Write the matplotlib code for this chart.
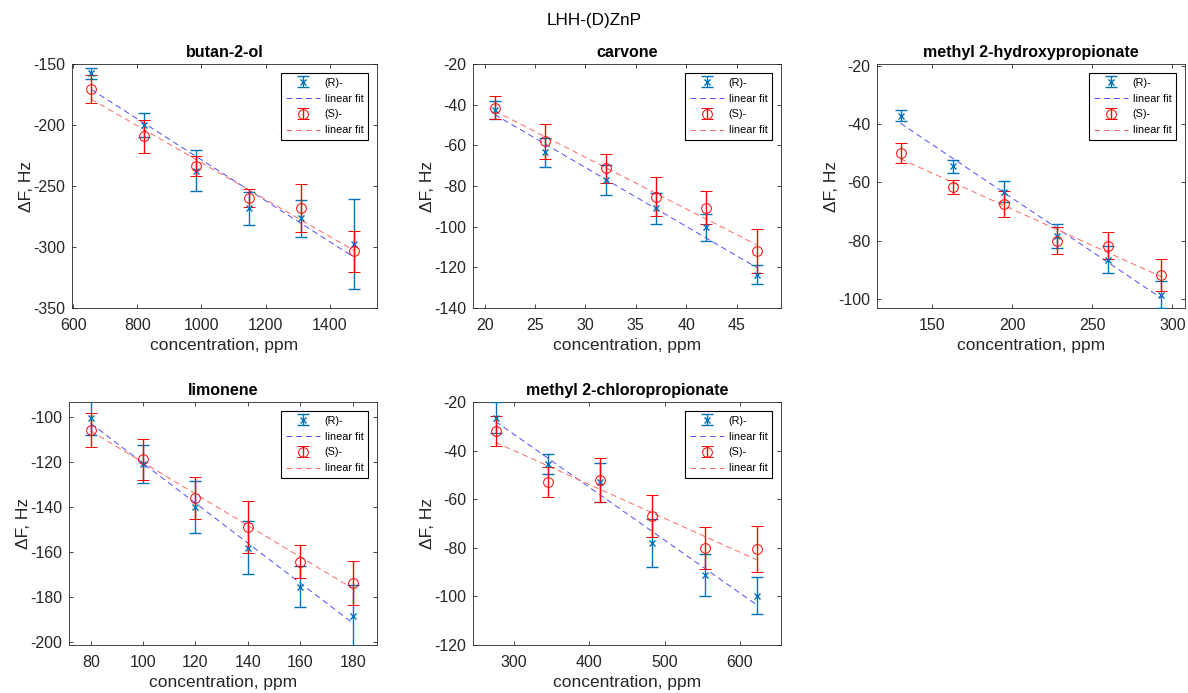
import numpy as np
import matplotlib
matplotlib.use("Agg")
import matplotlib.pyplot as plt

plt.rcParams['font.family'] = ['Liberation Sans', 'DejaVu Sans']
plt.rcParams['axes.unicode_minus'] = False

# concentrations, ppm
x_butanol = [656, 820, 984, 1148, 1312, 1476]
x_carvone = [21, 26, 32, 37, 42, 47]
x_hydroxy = [130, 163, 195, 228, 260, 293]
x_limonene = [80, 100, 120, 140, 160, 180]
x_chloro = [276, 345, 414, 484, 553, 622]

# (R)- response and error, Hz
r_butanol = [-157.4, -200.0, -237.4, -268.4, -276.6, -297.7]
r_butanol_err = [4.5, 10.0, 16.5, 13.5, 15.3, 37.0]
r_carvone = [-42.5, -63.4, -77.0, -91.0, -100.4, -123.6]
r_carvone_err = [4.4, 7.2, 7.5, 7.6, 6.7, 4.6]
r_hydroxy = [-37.1, -54.5, -63.1, -78.2, -86.5, -98.5]
r_hydroxy_err = [2.0, 2.2, 3.5, 4.1, 4.6, 4.6]
r_limonene = [-100.4, -121.2, -140.3, -158.2, -175.6, -188.4]
r_limonene_err = [7.7, 8.4, 11.6, 11.9, 9.0, 13.5]
r_chloro = [-26.5, -45.7, -53.0, -78.0, -91.3, -99.8]
r_chloro_err = [6.3, 4.1, 8.0, 9.7, 8.6, 7.6]

# (S)- response and error, Hz
s_butanol = [-170.5, -209.2, -233.8, -260.1, -268.0, -303.4]
s_butanol_err = [11.4, 13.6, 8.0, 7.4, 20.0, 16.7]
s_carvone = [-41.4, -58.1, -71.3, -85.3, -90.7, -111.9]
s_carvone_err = [5.5, 8.6, 7.1, 9.5, 8.0, 10.8]
s_hydroxy = [-49.9, -61.7, -67.4, -80.0, -81.6, -91.8]
s_hydroxy_err = [3.4, 2.4, 4.5, 4.6, 4.6, 5.5]
s_limonene = [-105.9, -119.0, -136.0, -148.9, -164.4, -174.0]
s_limonene_err = [7.7, 9.2, 9.3, 11.5, 7.4, 9.9]
s_chloro = [-32.0, -53.0, -52.2, -66.8, -80.1, -80.5]
s_chloro_err = [6.3, 6.3, 9.0, 8.6, 8.5, 9.5]

titles = ['butan-2-ol', 'carvone', 'methyl 2-hydroxypropionate',
          'limonene', 'methyl 2-chloropropionate']

panels = [
    (x_butanol, r_butanol, r_butanol_err, s_butanol, s_butanol_err),
    (x_carvone, r_carvone, r_carvone_err, s_carvone, s_carvone_err),
    (x_hydroxy, r_hydroxy, r_hydroxy_err, s_hydroxy, s_hydroxy_err),
    (x_limonene, r_limonene, r_limonene_err, s_limonene, s_limonene_err),
    (x_chloro, r_chloro, r_chloro_err, s_chloro, s_chloro_err),
]

xlims = [(596, 1548), (18.85, 49.4), (115.3, 307.9), (71.7, 189.3), (246, 654.4)]
ylims = [(-350, -150), (-140, -20), (-103, -19.4), (-201.5, -93.5), (-120, -20)]
xticks = [np.arange(600, 1401, 200), np.arange(20, 46, 5), np.arange(150, 301, 50),
          np.arange(80, 181, 20), np.arange(300, 601, 100)]
yticks = [np.arange(-350, -149, 50), np.arange(-140, -19, 20), np.arange(-100, -19, 20),
          np.arange(-200, -99, 20), np.arange(-120, -19, 20)]

# axes boxes in pixels: left, right, top, bottom
W, H = 1188, 693
boxes = [(72, 377, 64, 308), (473, 781, 64, 308), (877, 1185, 64, 308),
         (69, 377, 402, 645), (473, 781, 402, 645)]

blue = (0, 0.447, 0.741)
red = (1, 0, 0)
dark = (0.15, 0.15, 0.15)

fig = plt.figure(figsize=(W / 100, H / 100), dpi=100)
fig.text(0.5, 1 - 21 / H, 'LHH-(D)ZnP', ha='center', va='center', fontsize=12.3, color='black')

for i, (x, r, re, s, se) in enumerate(panels):
    l, rt, t, b = boxes[i]
    ax = fig.add_axes([l / W, 1 - b / H, (rt - l) / W, (b - t) / H])
    x = np.array(x, dtype=float)

    hr = ax.errorbar(x, r, yerr=re, fmt='x', color=blue, ecolor=blue, markersize=5,
                     elinewidth=1, capsize=4, capthick=1, mew=1, zorder=3)
    pr = np.polyfit(x, r, 1)
    fr, = ax.plot(x[[0, -1]], np.polyval(pr, x[[0, -1]]), '--', color=(0.3, 0.3, 1),
                  linewidth=0.7, dashes=(6, 4), zorder=2)

    hs = ax.errorbar(x, s, yerr=se, fmt='o', color=red, ecolor=red, markersize=7,
                     mfc='none', elinewidth=1, capsize=4, capthick=1, mew=0.7, zorder=3)
    ps = np.polyfit(x, s, 1)
    fs, = ax.plot(x[[0, -1]], np.polyval(ps, x[[0, -1]]), '--', color=(1, 0.4, 0.4),
                  linewidth=0.7, dashes=(6, 4), zorder=2)

    ax.set_xlim(*xlims[i])
    ax.set_ylim(*ylims[i])
    ax.set_xticks(xticks[i])
    ax.set_yticks(yticks[i])
    ax.tick_params(direction='in', top=True, right=True, labelsize=11.5,
                   colors=dark, length=3, width=0.6)
    ax.tick_params(axis='x', pad=7)
    ax.tick_params(axis='y', pad=5)
    for sp in ax.spines.values():
        sp.set_color(dark)
        sp.set_linewidth(0.6)
    ax.set_title(titles[i], fontsize=11.5, fontweight='bold', pad=5)
    ax.set_xlabel('concentration, ppm', fontsize=12.5, color=dark, labelpad=4)
    ax.set_ylabel('\u0394F, Hz', fontsize=12.5, color=dark, labelpad=-1)

    leg = ax.legend([hr, fr, hs, fs], ['(R)-', 'linear fit', '(S)-', 'linear fit'],
                    loc='upper right', fontsize=7.8, frameon=True, fancybox=False,
                    edgecolor='black', framealpha=1, borderaxespad=0.85,
                    handlelength=3.2, handletextpad=0.4, labelspacing=0.55,
                    borderpad=0.4)
    leg.get_frame().set_linewidth(0.8)

fig.savefig('out.png', dpi=100)
